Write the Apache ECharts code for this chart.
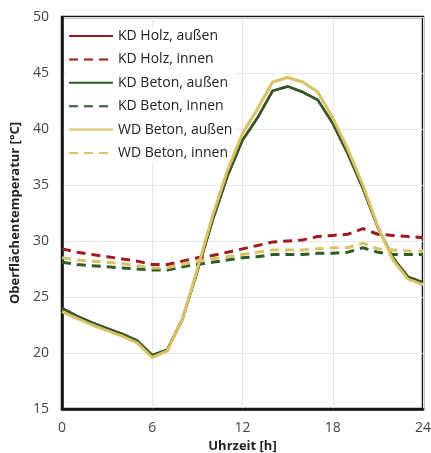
<!DOCTYPE html>
<html>
<head>
<meta charset="utf-8">
<script src="https://cdn.jsdelivr.net/npm/echarts@6/dist/echarts.min.js"></script>
<style>
  html, body { margin: 0; padding: 0; background: #fff; }
  #chart { width: 431px; height: 453px; }
</style>
</head>
<body>
<div id="chart"></div>
<script>
// Hour of day
const hours = [0,1,2,3,4,5,6,7,8,9,10,11,12,13,14,15,16,17,18,19,20,21,22,23,24];

// Surface temperatures in °C
const kdHolzAussen  = [24.0,23.3,22.7,22.2,21.7,21.1,19.8,20.3,23.0,27.3,31.8,35.8,39.0,41.0,43.4,43.8,43.3,42.6,40.5,37.8,34.7,31.2,28.5,26.8,26.3];
const kdHolzInnen   = [29.3,29.0,28.8,28.6,28.4,28.2,27.9,27.9,28.2,28.5,28.7,29.0,29.3,29.6,29.9,30.0,30.1,30.4,30.5,30.6,31.1,30.6,30.5,30.4,30.3];
const kdBetonAussen = [24.0,23.3,22.7,22.2,21.7,21.1,19.8,20.3,23.0,27.3,31.8,35.8,39.0,41.0,43.4,43.8,43.3,42.6,40.5,37.8,34.7,31.2,28.5,26.8,26.3];
const kdBetonInnen  = [28.1,27.9,27.8,27.7,27.6,27.5,27.4,27.4,27.7,27.9,28.1,28.3,28.5,28.6,28.8,28.8,28.8,28.9,28.9,29.0,29.4,29.0,28.8,28.8,28.8];
const wdBetonAussen = [23.7,23.1,22.5,22.0,21.5,20.9,19.6,20.2,23.0,27.5,32.2,36.3,39.6,41.8,44.2,44.6,44.2,43.3,41.0,38.2,35.0,31.3,28.3,26.6,26.1];
const wdBetonInnen  = [28.5,28.3,28.2,28.1,28.0,27.8,27.6,27.6,27.9,28.2,28.4,28.6,28.8,29.0,29.2,29.2,29.2,29.3,29.4,29.4,29.8,29.3,29.2,29.1,29.1];

const xTicks = [0, 6, 12, 18, 24];
const yTicks = [15, 20, 25, 30, 35, 40, 45, 50];

const RED = '#9e1b22';
const GREEN = '#2f5b2a';
const GOLD = '#d8c263';
const FONT = 'Open Sans';

function pairs(vals) { return hours.map((h, i) => [h, vals[i]]); }

function line(name, vals, color, dashed, width) {
  return {
    name: name,
    type: 'line',
    z: 3,
    data: pairs(vals),
    symbol: 'none',
    smooth: false,
    lineStyle: { color: color, width: width, type: dashed ? [9, 6] : 'solid' },
    itemStyle: { color: color },
    emphasis: { disabled: true }
  };
}

const chart = echarts.init(document.getElementById('chart'));
chart.setOption({
  backgroundColor: '#fff',
  animation: false,
  grid: {
    left: 62, top: 17, right: 8, bottom: 44,
    outerBoundsMode: 'none',
    show: true, borderColor: '#151515', borderWidth: 2.5, backgroundColor: 'transparent'
  },
  legend: {
    orient: 'vertical',
    left: 66, top: 27, z: 1,
    itemWidth: 44, itemHeight: 14, itemGap: 9.4,
    backgroundColor: '#fff',
    padding: [2, 2, 2, 2],
    itemStyle: { opacity: 0 },
    textStyle: { fontFamily: FONT, fontSize: 14, color: '#222', padding: [0, 0, 0, 0] },
    data: ['KD Holz, außen','KD Holz, innen','KD Beton, außen','KD Beton, innen','WD Beton, außen','WD Beton, innen']
  },
  xAxis: {
    type: 'value', min: 0, max: 24, interval: 6,
    name: 'Uhrzeit [h]', nameLocation: 'middle', nameGap: 26,
    nameTextStyle: { fontFamily: FONT, fontSize: 13, fontWeight: 'bold', color: '#222' },
    axisLine: { show: true, lineStyle: { color: '#151515', width: 2.5 } },
    axisTick: { show: false },
    axisLabel: {
      margin: 12, fontFamily: FONT, fontSize: 14, color: '#444',
      customValues: xTicks
    },
    splitLine: { show: true, lineStyle: { color: '#e6e6e6', width: 1 } }
  },
  yAxis: {
    type: 'value', min: 15, max: 50, interval: 5,
    name: 'Oberflächentemperatur [°C]', nameLocation: 'middle', nameGap: 33,
    nameTextStyle: { fontFamily: FONT, fontSize: 13, fontWeight: 'bold', color: '#222' },
    axisLine: { show: true, lineStyle: { color: '#151515', width: 2.5 } },
    axisTick: { show: false },
    axisLabel: { margin: 13, fontFamily: FONT, fontSize: 14, color: '#444' },
    splitLine: { show: true, lineStyle: { color: '#e6e6e6', width: 1 } }
  },
  series: [
    line('KD Holz, außen', kdHolzAussen, RED, false, 2.5),
    line('KD Holz, innen', kdHolzInnen, RED, true, 3),
    line('KD Beton, außen', kdBetonAussen, GREEN, false, 2.5),
    line('KD Beton, innen', kdBetonInnen, GREEN, true, 3),
    line('WD Beton, außen', wdBetonAussen, GOLD, false, 3),
    line('WD Beton, innen', wdBetonInnen, GOLD, true, 3)
  ]
});
</script>
</body>
</html>
